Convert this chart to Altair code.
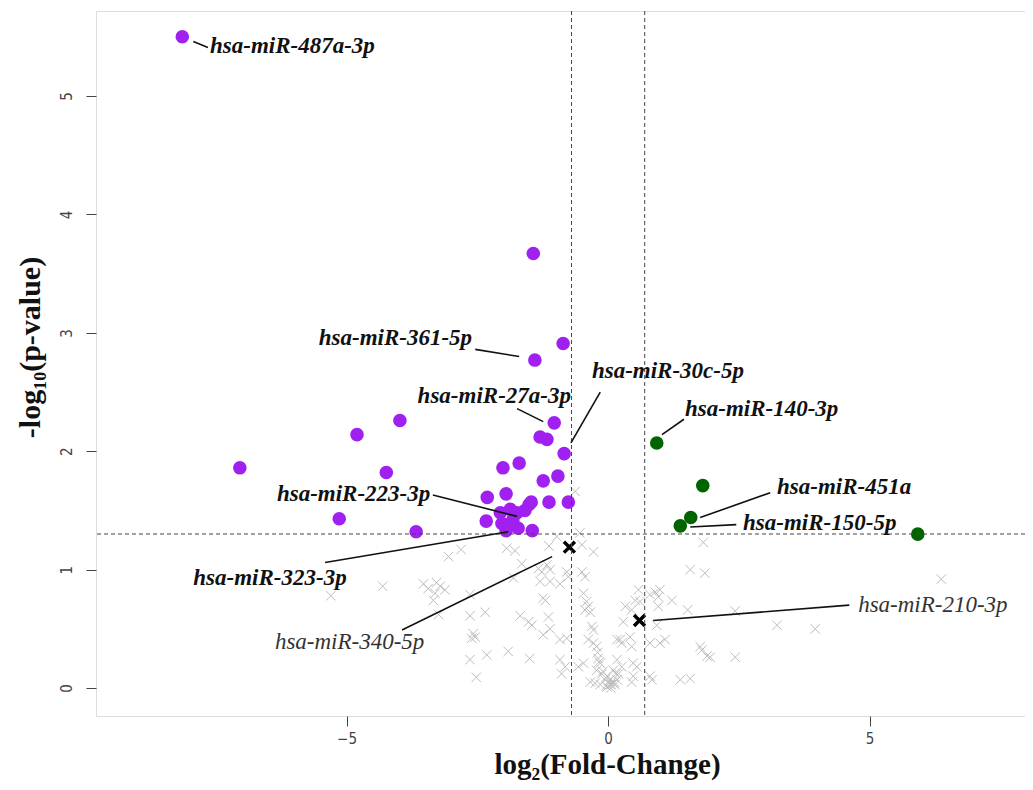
import altair as alt
import pandas as pd

# ---------------- data (log2 fold-change, -log10 p-value) ----------------
purple_x = [-8.14, -1.43, -0.86, -1.40, -1.03, -1.30, -1.17, -0.84, -3.98, -4.80,
            -7.04, -4.24, -5.14, -3.67, -2.01, -1.70, -0.96, -1.24, -2.31, -1.95,
            -1.47, -1.13, -0.76, -2.33, -2.06, -1.87, -1.74, -1.59, -1.51, -2.03,
            -1.87, -1.72, -1.45, -1.82, -1.95]
purple_y = [5.50, 3.67, 2.91, 2.77, 2.24, 2.12, 2.10, 1.98, 2.26, 2.14,
            1.86, 1.82, 1.43, 1.32, 1.86, 1.90, 1.79, 1.75, 1.61, 1.64,
            1.57, 1.57, 1.57, 1.41, 1.48, 1.51, 1.48, 1.50, 1.55, 1.39,
            1.39, 1.35, 1.33, 1.42, 1.33]

green_x = [0.93, 1.81, 1.58, 1.38, 5.92]
green_y = [2.07, 1.71, 1.44, 1.37, 1.30]

grey_x = [-2.81, -3.05, -4.31, -5.30, -3.53, -3.44, -3.28, -3.21, -3.12, -3.31,
          -3.34, -3.24, -2.64, -2.64, -2.58, -2.61, -2.54, -2.64, -2.52, -1.94,
          -1.78, -1.13, -1.65, -1.33, -1.27, -1.17, -1.11, -1.81, -1.30, -1.11,
          -0.92, -1.24, -1.20, -2.35, -1.68, -1.52, -1.46, -1.14, -1.11, -1.24,
          -0.92, -0.79, -2.32, -1.91, -1.50, -0.92, -0.82, -0.89, -0.50, -0.28,
          -0.50, -0.44, -0.79, -0.76, -0.47, -0.41, -0.38, -0.44, -0.34, -0.31,
          -0.28, -0.38, -0.28, -0.22, -0.57, -0.47, -0.19, -0.15, -0.22, -0.12,
          -0.02, -0.34, -0.25, -0.15, -0.02, 0.04, 0.10, 0.17, 0.17, 1.82,
          1.57, 1.85, 0.58, 0.52, 0.33, 0.45, 0.61, 0.80, 0.90, 0.99,
          0.96, 1.22, 0.96, 1.52, 2.43, 0.29, 0.93, 0.23, 0.26, 0.42,
          0.45, 0.80, 0.99, 1.09, 1.76, 1.79, 1.89, 1.95, 2.43, 0.17,
          0.26, 0.10, 0.20, 0.07, 0.13, 0.48, 0.55, 0.45, 0.48, 0.80,
          0.84, 1.38, 1.57, 6.37, 3.23, 3.96, -0.20, -0.17, -0.10, -0.06,
          0.02, 0.06, 0.12, 0.15, 0.05, -0.04, -0.63, -0.54, -0.98]
grey_y = [1.17, 1.11, 0.86, 0.78, 0.88, 0.84, 0.89, 0.86, 0.83, 0.80,
          0.74, 0.62, 0.79, 0.61, 0.46, 0.42, 0.43, 0.24, 0.09, 1.18,
          1.16, 1.20, 1.05, 1.01, 0.98, 1.04, 1.00, 0.93, 0.90, 0.90,
          0.88, 0.76, 0.74, 0.64, 0.61, 0.56, 0.53, 0.60, 0.50, 0.45,
          0.41, 0.42, 0.28, 0.31, 0.25, 0.24, 0.18, 0.12, 1.21, 1.15,
          0.98, 0.94, 0.98, 0.94, 0.80, 0.73, 0.69, 0.66, 0.64, 0.52,
          0.49, 0.41, 0.38, 0.35, 0.18, 0.21, 0.25, 0.21, 0.15, 0.12,
          0.10, 0.05, 0.04, 0.03, 0.01, 0.03, 0.04, 0.07, 0.41, 1.23,
          1.00, 0.97, 0.83, 0.74, 0.69, 0.66, 0.73, 0.79, 0.81, 0.83,
          0.77, 0.74, 0.69, 0.66, 0.65, 0.56, 0.53, 0.41, 0.38, 0.43,
          0.35, 0.38, 0.38, 0.41, 0.35, 0.32, 0.27, 0.26, 0.26, 0.24,
          0.18, 0.15, 0.12, 0.05, 0.03, 0.21, 0.18, 0.05, 0.10, 0.10,
          0.07, 0.07, 0.08, 0.92, 0.53, 0.50, 0.30, 0.22, 0.14, 0.07,
          0.06, 0.03, 0.05, 0.12, 0.00, 0.02, 1.66, 1.31, 1.28]

highlight_names = ["hsa-miR-340-5p", "hsa-miR-210-3p"]
highlight_x = [-0.74, 0.60]
highlight_y = [1.19, 0.57]

p_threshold = 1.301   # -log10(0.05)
fc_threshold = 0.7

# labels: text, anchor position, alignment, style, and leader-line end points
label_text = ["hsa-miR-487a-3p", "hsa-miR-361-5p", "hsa-miR-27a-3p", "hsa-miR-30c-5p",
              "hsa-miR-140-3p", "hsa-miR-451a", "hsa-miR-150-5p", "hsa-miR-223-3p",
              "hsa-miR-323-3p", "hsa-miR-340-5p", "hsa-miR-210-3p"]
label_x = [-7.61, -2.60, -0.71, -0.31, 1.47, 3.23, 2.58, -3.40, -7.93, -6.37, 4.78]
label_y = [5.42, 2.96, 2.47, 2.68, 2.36, 1.70, 1.39, 1.64, 0.93, 0.39, 0.70]
label_align = ["left", "right", "right", "left", "left", "left", "left", "right",
               "left", "left", "left"]
label_bold = [True, True, True, True, True, True, True, True, True, False, False]
line_x1 = [-7.93, -2.54, -1.74, -0.15, 1.03, 1.76, 1.57, -3.35, -5.41, -3.94, 0.86]
line_y1 = [5.46, 2.86, 2.36, 2.50, 2.14, 1.44, 1.36, 1.63, 1.06, 0.49, 0.57]
line_x2 = [-7.65, -1.70, -1.24, -0.71, 1.45, 3.10, 2.45, -1.74, -1.91, -1.07, 4.61]
line_y2 = [5.41, 2.80, 2.25, 2.07, 2.27, 1.65, 1.38, 1.45, 1.32, 1.11, 0.70]

x_ticks = [-5, 0, 5]
y_ticks = [0, 1, 2, 3, 4, 5]
x_domain = [-9.79, 7.97]
y_domain = [-0.236, 5.718]

# ---------------- frames ----------------
purple = pd.DataFrame({"x": purple_x, "y": purple_y})
green = pd.DataFrame({"x": green_x, "y": green_y})
grey = pd.DataFrame({"x": grey_x, "y": grey_y})
hl = pd.DataFrame({"x": highlight_x, "y": highlight_y, "name": highlight_names})
labels = pd.DataFrame({"text": label_text, "x": label_x, "y": label_y,
                       "align": label_align, "bold": label_bold,
                       "x1": line_x1, "y1": line_y1, "x2": line_x2, "y2": line_y2})
hrule = pd.DataFrame({"y": [p_threshold]})
vrule = pd.DataFrame({"x": [-fc_threshold, fc_threshold]})

W, H = 929, 705
XSHAPE = "M-1,-1L1,1M-1,1L1,-1"
TICKFONT = "Liberation Sans Narrow, DejaVu Sans Condensed, Liberation Sans, sans-serif"

xscale = alt.Scale(domain=x_domain, nice=False, zero=False)
yscale = alt.Scale(domain=y_domain, nice=False, zero=False)

xaxis = alt.Axis(values=x_ticks, format="d", grid=False, domain=False, tickColor="#444",
                 tickSize=10, tickWidth=1, labelFont=TICKFONT,
                 labelFontSize=15, labelColor="#444", labelPadding=5,
                 title="log₂(Fold-Change)", titleFont="Liberation Serif",
                 titleFontSize=29, titleFontWeight="bold", titleColor="#111",
                 titleX=511, titleY=48, titleBaseline="middle", titleAnchor="middle")
yaxis = alt.Axis(values=y_ticks, format="d", grid=False, domain=False, tickColor="#444",
                 tickSize=10, tickWidth=1, labelFont=TICKFONT,
                 labelFontSize=15, labelColor="#444", labelAngle=-90,
                 labelAlign="center", labelBaseline="bottom", labelPadding=12,
                 title="-log₁₀(p-value)", titleFont="Liberation Serif",
                 titleFontSize=30, titleFontWeight="bold", titleColor="#111",
                 titleAngle=-90, titleX=-66, titleY=336, titleBaseline="middle",
                 titleAlign="center")

base_x = alt.X("x:Q", scale=xscale, axis=xaxis)
base_y = alt.Y("y:Q", scale=yscale, axis=yaxis)

grey_layer = alt.Chart(grey).mark_point(shape=XSHAPE, filled=False, color="#bdbdbd",
                                        strokeWidth=1, size=90, opacity=1).encode(
    x=base_x, y=base_y)

purple_layer = alt.Chart(purple).mark_circle(size=185, color="#A020F0", opacity=1).encode(
    x="x:Q", y="y:Q")
green_layer = alt.Chart(green).mark_circle(size=185, color="#006400", opacity=1).encode(
    x="x:Q", y="y:Q")
hl_layer = alt.Chart(hl).mark_point(shape=XSHAPE, filled=False, color="black",
                                    strokeWidth=3.5, size=120, opacity=1).encode(
    x="x:Q", y="y:Q")

h_layer = alt.Chart(hrule).mark_rule(color="#444", strokeDash=[4, 3], strokeWidth=1).encode(y="y:Q")
v_layer = alt.Chart(vrule).mark_rule(color="#444", strokeDash=[4, 3], strokeWidth=1).encode(x="x:Q")

lines_layer = alt.Chart(labels).mark_rule(color="#111", strokeWidth=1.6).encode(
    x="x1:Q", y="y1:Q", x2="x2:Q", y2="y2:Q")

def text_layer(align, bold):
    sub = labels[(labels["align"] == align) & (labels["bold"] == bold)]
    return alt.Chart(sub).mark_text(
        align=align, baseline="middle", font="Liberation Serif", fontSize=23,
        fontStyle="italic", fontWeight="bold" if bold else "normal",
        color="#111" if bold else "#333").encode(x="x:Q", y="y:Q", text="text:N")

chart = alt.layer(
    grey_layer, purple_layer, green_layer, hl_layer, h_layer, v_layer, lines_layer,
    text_layer("left", True), text_layer("right", True), text_layer("left", False)
).properties(
    width=W, height=H,
    autosize=alt.AutoSizeParams(type="none"),
    padding={"left": 88, "top": 3, "right": 0, "bottom": 66},
).configure_view(stroke="#333", strokeWidth=1.2).configure(background="white")

chart.save("out.html", embed_options={"renderer": "svg", "actions": False})
